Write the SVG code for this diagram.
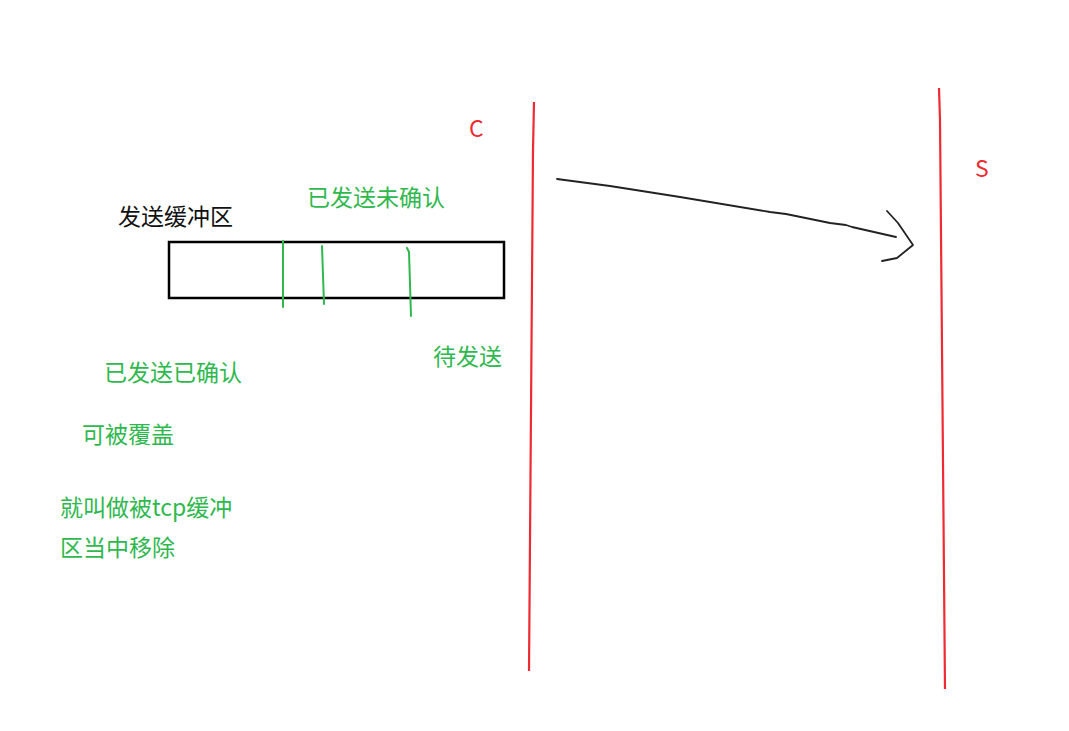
<svg xmlns="http://www.w3.org/2000/svg" width="1069" height="731" viewBox="0 0 1069 731">
<style>
.t{font-family:"Noto Sans CJK SC","Liberation Sans",sans-serif;font-size:23px}
.g{fill:#2fb84e}
.k{fill:#111}
.r{fill:#ee2a33}
.gl{stroke:#2fb84e;stroke-width:2;fill:none;stroke-linecap:round}
.rl{stroke:#ee2a33;stroke-width:2.2;fill:none}
.bl{stroke:#222;stroke-width:1.8;fill:none;stroke-linecap:round;stroke-linejoin:round}
</style>
<rect width="1069" height="731" fill="#fff"/>
<g id="lifeline-c">
<path class="rl" d="M534 102 L533 150 L529 671"/>
<text class="t r" x="469" y="137">C</text>
</g>
<g id="lifeline-s">
<path class="rl" d="M939 88 L940 120 L945 689"/>
<text class="t r" x="975" y="177">S</text>
</g>
<g id="buffer">
<rect x="169" y="242" width="335" height="56" fill="none" stroke="#000" stroke-width="2.5"/>
<path class="gl" d="M283 241 L283 307"/>
<path class="gl" d="M322 246 L324 304" stroke-width="2.5"/>
<path class="gl" d="M407 248 L409 252 L411 316"/>
<text class="t k" x="118" y="225">发送缓冲区</text>
</g>
<g id="labels">
<text class="t g" x="307" y="206">已发送未确认</text>
<text class="t g" x="433" y="365">待发送</text>
<text class="t g" x="104" y="381">已发送已确认</text>
<text class="t g" x="82" y="443">可被覆盖</text>
<text class="t g" x="60" y="516">就叫做被tcp缓冲</text>
<text class="t g" x="60" y="556">区当中移除</text>
</g>
<g id="connectors">
<path class="bl" d="M557 179 L610 186 L680 197 L770 212 L786 214 L830 223 L846 225 L852 227 L896 237"/>
<path class="bl" d="M887 211 L898 223 L913 245 L897 258 L882 261"/>
</g>
</svg>
